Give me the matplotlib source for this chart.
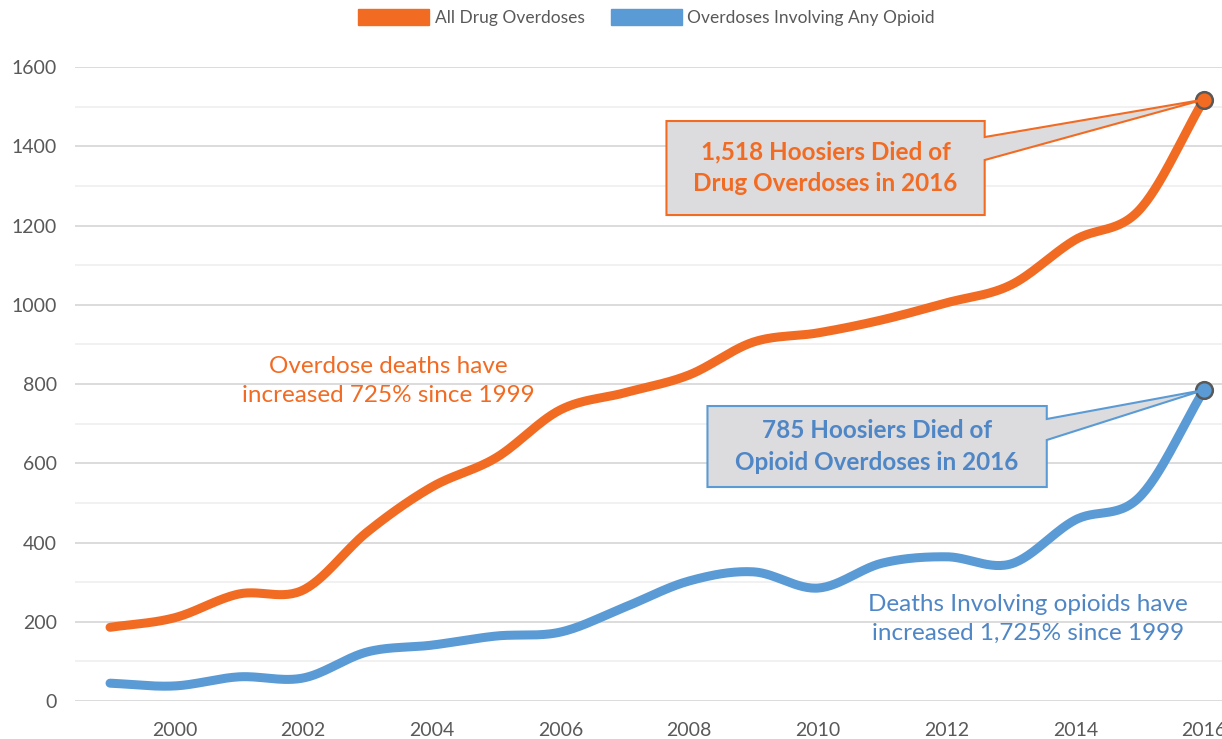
import matplotlib
matplotlib.use("Agg")
import matplotlib.pyplot as plt
from matplotlib.patches import Patch, Polygon
from matplotlib.ticker import MultipleLocator
import numpy as np

# Indiana overdose deaths, 1999-2016
years = list(range(1999, 2017))
all_drug = [186, 210, 270, 280, 427, 540, 614, 735, 778, 823, 906, 929,
            962, 1005, 1050, 1164, 1240, 1518]
any_opioid = [45, 38, 61, 58, 124, 141, 164, 174, 237, 303, 326, 285,
              348, 364, 346, 457, 515, 785]

series_names = ["All Drug Overdoses", "Overdoses Involving Any Opioid"]
callout_text = ["1,518 Hoosiers Died of\nDrug Overdoses in 2016",
                "785 Hoosiers Died of\nOpioid Overdoses in 2016"]
note_text = ["Overdose deaths have\nincreased 725% since 1999",
             "Deaths Involving opioids have\nincreased 1,725% since 1999"]

ORANGE = "#F26B23"
BLUE = "#5B9BD5"
BLUE_TXT = "#4F86C6"
GREY_TXT = "#595959"

plt.rcParams["font.family"] = ["Lato", "DejaVu Sans"]


def smooth(x, y, n=30):
    # Catmull-Rom curve through every point, like a spreadsheet "smoothed line"
    x = np.asarray(x, float)
    y = np.asarray(y, float)
    px = np.concatenate([[2 * x[0] - x[1]], x, [2 * x[-1] - x[-2]]])
    py = np.concatenate([[2 * y[0] - y[1]], y, [2 * y[-1] - y[-2]]])
    t = np.linspace(0, 1, n, endpoint=False)
    xs, ys = [], []
    for i in range(1, len(px) - 2):
        for p, out in ((px, xs), (py, ys)):
            p0, p1, p2, p3 = p[i - 1], p[i], p[i + 1], p[i + 2]
            out.extend(0.5 * ((2 * p1) + (-p0 + p2) * t
                              + (2 * p0 - 5 * p1 + 4 * p2 - p3) * t ** 2
                              + (-p0 + 3 * p1 - 3 * p2 + p3) * t ** 3))
    xs.append(x[-1])
    ys.append(y[-1])
    return np.array(xs), np.array(ys)


fig = plt.figure(figsize=(12.22, 7.39), dpi=100)
ax = fig.add_axes([0.0614, 0.0514, 0.9386, 0.8579])

for vals, col in ((all_drug, ORANGE), (any_opioid, BLUE)):
    sx, sy = smooth(years, vals)
    ax.plot(sx, sy, color=col, lw=6.5, solid_capstyle="round", zorder=3,
            clip_on=False)
    ax.plot(years[-1], vals[-1], "o", ms=12, mfc=col, mec="#595959", mew=1.8,
            zorder=5, clip_on=False)

ax.set_xlim(1998.456, 2016.28)
ax.set_ylim(0, 1600)
ax.yaxis.set_major_locator(MultipleLocator(200))
ax.yaxis.set_minor_locator(MultipleLocator(100))
ax.xaxis.set_major_locator(MultipleLocator(2))
ax.grid(axis="y", which="major", color="#D9D9D9", lw=1.3)
ax.grid(axis="y", which="minor", color="#F0F0F0", lw=1.3)
ax.set_axisbelow(True)
for s in ax.spines.values():
    s.set_visible(False)
ax.tick_params(which="both", length=0, labelsize=14, labelcolor=GREY_TXT)
ax.tick_params(axis="y", pad=13)
ax.tick_params(axis="x", pad=15)


def callout(box, tip, text, edge, tcol):
    x0, x1, ytop, ybot, b1, b2 = box
    pts = [(x0, ytop), (x1, ytop), (x1, b1), tip, (x1, b2), (x1, ybot),
           (x0, ybot)]
    ax.add_patch(Polygon(pts, closed=True, fc="#DCDCDE", ec=edge, lw=1.5,
                         zorder=6, clip_on=False))
    ax.text((x0 + x1) / 2, (ytop + ybot) / 2, text, ha="center", va="center",
            color=tcol, fontsize=17.5, fontweight="bold", linespacing=1.45,
            zorder=7)


callout((2007.647, 2012.592, 1463.7, 1226.5, 1423.3, 1365.3),
        (years[-1], all_drug[-1]), callout_text[0], ORANGE, ORANGE)
callout((2008.284, 2013.557, 744.5, 540.1, 711.7, 658.7),
        (years[-1], any_opioid[-1]), callout_text[1], BLUE, BLUE_TXT)

ax.text(2003.32, 807, note_text[0], ha="center", va="center", color=ORANGE,
        fontsize=17.5, linespacing=1.45)
ax.text(2013.26, 207, note_text[1], ha="center", va="center", color=BLUE_TXT,
        fontsize=17.5, linespacing=1.45)

handles = [Patch(color=ORANGE), Patch(color=BLUE)]
fig.legend(handles, series_names, loc="center", bbox_to_anchor=(0.529, 0.976),
           ncol=2, frameon=False, fontsize=12.5, handlelength=4.1,
           handleheight=1.0, handletextpad=0.3, columnspacing=1.5,
           labelcolor=GREY_TXT)

fig.savefig("out.png", dpi=100)
